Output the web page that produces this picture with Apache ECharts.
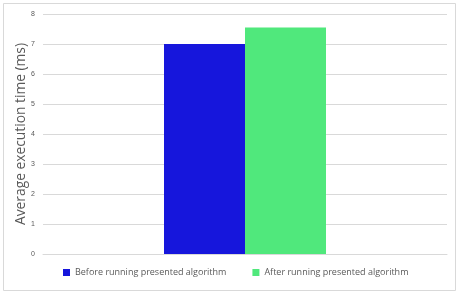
<!DOCTYPE html>
<html><head><meta charset="utf-8">
<script src="https://cdn.jsdelivr.net/npm/echarts@6/dist/echarts.min.js"></script>
<style>html,body{margin:0;padding:0;background:#fff}#c{width:459px;height:296px}</style>
</head><body><div id="c"></div>
<script>
const categories = [''];
const seriesNames = ['Before running presented algorithm', 'After running presented algorithm'];
const beforeValues = [7.0];
const afterValues = [7.55];
const yTicks = [0, 1, 2, 3, 4, 5, 6, 7, 8];

const chart = echarts.init(document.getElementById('c'), null, {renderer: 'canvas'});
chart.setOption({
  animation: false,
  backgroundColor: '#fff',
  graphic: [{
    type: 'rect', shape: {x: 3.5, y: 3.5, width: 452, height: 287},
    style: {fill: 'none', stroke: '#d9d9d9', lineWidth: 1}, silent: true
  }],
  grid: {left: 43, right: 12, top: 14, bottom: 42},
  legend: {
    bottom: 14, left: 58, itemWidth: 7, itemHeight: 7, itemGap: 26,
    icon: 'rect',
    textStyle: {fontSize: 9, color: '#595959', fontFamily: 'Open Sans'},
    data: seriesNames
  },
  xAxis: {
    type: 'category', data: categories,
    axisLine: {lineStyle: {color: '#d9d9d9'}}, axisTick: {show: false}, axisLabel: {show: false}
  },
  yAxis: {
    type: 'value', min: yTicks[0], max: yTicks[yTicks.length - 1], interval: 1,
    name: 'Average execution time (ms)', nameLocation: 'middle', nameGap: 15,
    nameMoveOverlap: false,
    nameTextStyle: {fontSize: 13.8, color: '#595959', fontFamily: 'Open Sans'},
    axisLine: {show: false}, axisTick: {show: false},
    axisLabel: {fontSize: 7, color: '#595959', margin: 8},
    splitLine: {lineStyle: {color: '#d9d9d9'}}
  },
  series: [
    {name: seriesNames[0], type: 'bar', data: beforeValues, barWidth: 81, barGap: '0%',
     itemStyle: {color: '#1616dc'}},
    {name: seriesNames[1], type: 'bar', data: afterValues, barWidth: 81,
     itemStyle: {color: '#50e87c'}}
  ]
});
</script></body></html>
